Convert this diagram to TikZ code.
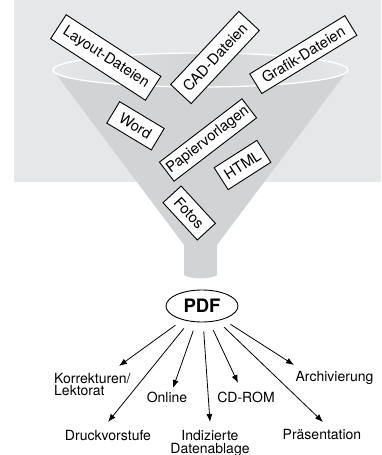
\documentclass[tikz,border=0pt]{standalone}
\usepackage{fontspec}
\setmainfont{TeX Gyre Heros}
\usetikzlibrary{arrows.meta,calc,shapes.geometric}
\definecolor{bggray}{HTML}{E6E7E8}
\definecolor{fungray}{HTML}{D1D3D4}
\begin{document}
\begin{tikzpicture}[x=1pt,y=-1pt,
  fbox/.style={draw=black, fill=white, line width=0.9pt, inner sep=0pt, font=\fontsize{14.8}{14.8}\selectfont},
  lab/.style={inner sep=0pt, font=\fontsize{14}{12.7}\selectfont},
  arr/.style={-{Latex[length=8pt,width=6pt]}, line width=0.8pt, shorten <=9pt},
]
\useasboundingbox (0,0) rectangle (381,455);
% background panel
\fill[bggray] (14,0) rectangle (381,182);
% funnel
\fill[fungray] (53,70) -- (184,245) -- (184,275) .. controls (190,279.5) and (211,279.5) .. (217,275) -- (217,245) -- (348,70) -- cycle;
\path[left color=bggray, right color=bggray, middle color=fungray] (200.5,70) ellipse [x radius=147.5pt, y radius=17pt];
\draw[white, line width=1.3pt] (200.5,70) ellipse [x radius=147.5pt, y radius=17pt];
% input boxes
\node[fbox, rotate=-33, minimum width=113pt, minimum height=28.5pt] (layout) at (105.8,57.5) {Layout-Dateien};
\node[fbox, rotate=47, minimum width=100pt, minimum height=28pt] (cad) at (215,57.5) {CAD-Dateien};
\node[fbox, rotate=31.5, minimum width=111.5pt, minimum height=23pt] (grafik) at (303.3,54.6) {Grafik-Dateien};
\node[fbox, rotate=-31, minimum width=52pt, minimum height=25pt] (word) at (135.5,125.8) {Word};
\node[fbox, rotate=37.5, minimum width=104pt, minimum height=24pt] (papier) at (208,140) {Papiervorlagen};
\node[fbox, rotate=32.6, minimum width=50.7pt, minimum height=26pt] (html) at (242.5,165) {HTML};
\node[fbox, rotate=-47.4, minimum width=50.7pt, minimum height=24.6pt] (fotos) at (189.2,213) {Fotos};
% PDF
\node[draw, ellipse, line width=0.9pt, minimum width=72pt, minimum height=32pt, inner sep=0pt, font=\fontsize{18.5}{18.5}\selectfont\bfseries] (pdf) at (202,306) {PDF};
% outputs
\node[lab, anchor=north west, align=left] (kor) at (54,372.7) {Korrekturen/\\Lektorat};
\node[lab, anchor=base] (druck) at (108,440) {Druckvorstufe};
\node[lab, anchor=base] (online) at (167,402) {Online};
\node[lab, anchor=north, align=center] (ind) at (210,430) {Indizierte\\Datenablage};
\node[lab, anchor=base] (cd) at (246,402) {CD-ROM};
\node[lab, anchor=base] (pres) at (322,439) {Präsentation};
\node[lab, anchor=base] (arch) at (334.5,381) {Archivierung};
% arrow tips
\coordinate (t1) at (119,366);
\coordinate (t2) at (108,422);
\coordinate (t3) at (173,388);
\coordinate (t4) at (210,422);
\coordinate (t5) at (238,383);
\coordinate (t6) at (323,422);
\coordinate (t7) at (294,365);
\foreach \t in {t1,t2,t3,t4,t5,t6,t7}{\draw[arr] (pdf) -- (\t);}
\end{tikzpicture}
\end{document}
